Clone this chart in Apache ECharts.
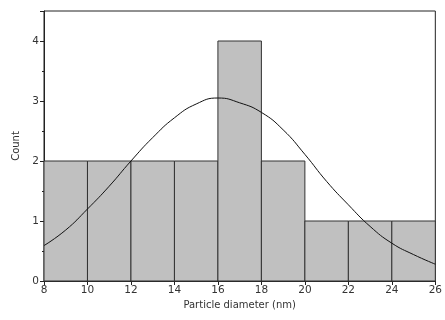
<!DOCTYPE html>
<html>
<head>
<meta charset="utf-8">
<script src="https://cdn.jsdelivr.net/npm/echarts@6/dist/echarts.min.js"></script>
<style>
  html, body { margin: 0; padding: 0; background: #fff; }
  #chart { width: 445px; height: 320px; }
</style>
</head>
<body>
<div id="chart"></div>
<script>
// histogram bins (nm) and counts
const binStarts = [8, 10, 12, 14, 16, 18, 20, 22, 24];
const binWidth = 2;
const counts = [2, 2, 2, 2, 4, 2, 1, 1, 1];
// fitted normal curve
const fitX = [8, 9, 10, 11, 12, 13, 14, 15, 16, 17, 18, 19, 20, 21, 22, 23, 24, 25, 26];
const fitY = [0.59, 0.85, 1.2, 1.58, 2.0, 2.39, 2.72, 2.95, 3.05, 2.97, 2.81, 2.52, 2.11, 1.66, 1.27, 0.91, 0.63, 0.44, 0.28];
const xTicks = [8, 10, 12, 14, 16, 18, 20, 22, 24, 26];

const font = 'DejaVu Sans, Verdana, sans-serif';
const chart = echarts.init(document.getElementById('chart'));

const option = {
  backgroundColor: '#fff',
  animation: false,
  grid: {
    left: 44, right: 5, top: 11, bottom: 39,
    show: true, borderColor: '#222', borderWidth: 1, backgroundColor: 'transparent'
  },
  xAxis: {
    type: 'value',
    min: xTicks[0],
    max: xTicks[xTicks.length - 1],
    interval: 2,
    name: 'Particle diameter (nm)',
    nameLocation: 'middle',
    nameGap: 18,
    nameTextStyle: { fontFamily: font, fontSize: 10, color: '#333' },
    axisLine: { lineStyle: { color: '#222' } },
    axisTick: { inside: false, length: 4, lineStyle: { color: '#222' } },
    axisLabel: { fontFamily: font, fontSize: 10.5, color: '#333', margin: 4 },
    splitLine: { show: false }
  },
  yAxis: {
    type: 'value',
    min: 0,
    max: 4.5,
    interval: 1,
    name: 'Count',
    nameLocation: 'middle',
    nameGap: 19,
    nameTextStyle: { fontFamily: font, fontSize: 10, color: '#333' },
    axisLine: { show: true, lineStyle: { color: '#222' } },
    axisTick: { show: true, length: 4, lineStyle: { color: '#222' } },
    minorTick: { show: true, splitNumber: 2, length: 2, lineStyle: { color: '#222' } },
    axisLabel: { fontFamily: font, fontSize: 10.5, color: '#333', margin: 5, showMaxLabel: false,
      formatter: v => (Number.isInteger(v) ? String(v) : '') },
    splitLine: { show: false }
  },
  series: [
    {
      type: 'custom',
      data: binStarts.map((s, i) => [s, s + binWidth, counts[i]]),
      renderItem: function (params, api) {
        const p0 = api.coord([api.value(0), 0]);
        const p1 = api.coord([api.value(1), api.value(2)]);
        return {
          type: 'rect',
          shape: { x: p0[0], y: p1[1], width: p1[0] - p0[0], height: p0[1] - p1[1] },
          style: { fill: '#c0c0c0', stroke: '#333', lineWidth: 1 }
        };
      },
      encode: { x: [0, 1], y: 2 },
      z: 1
    },
    {
      type: 'line',
      data: fitX.map((x, i) => [x, fitY[i]]),
      smooth: true,
      showSymbol: false,
      lineStyle: { color: '#111', width: 1 },
      z: 3
    }
  ]
};
chart.setOption(option);
</script>
</body>
</html>
